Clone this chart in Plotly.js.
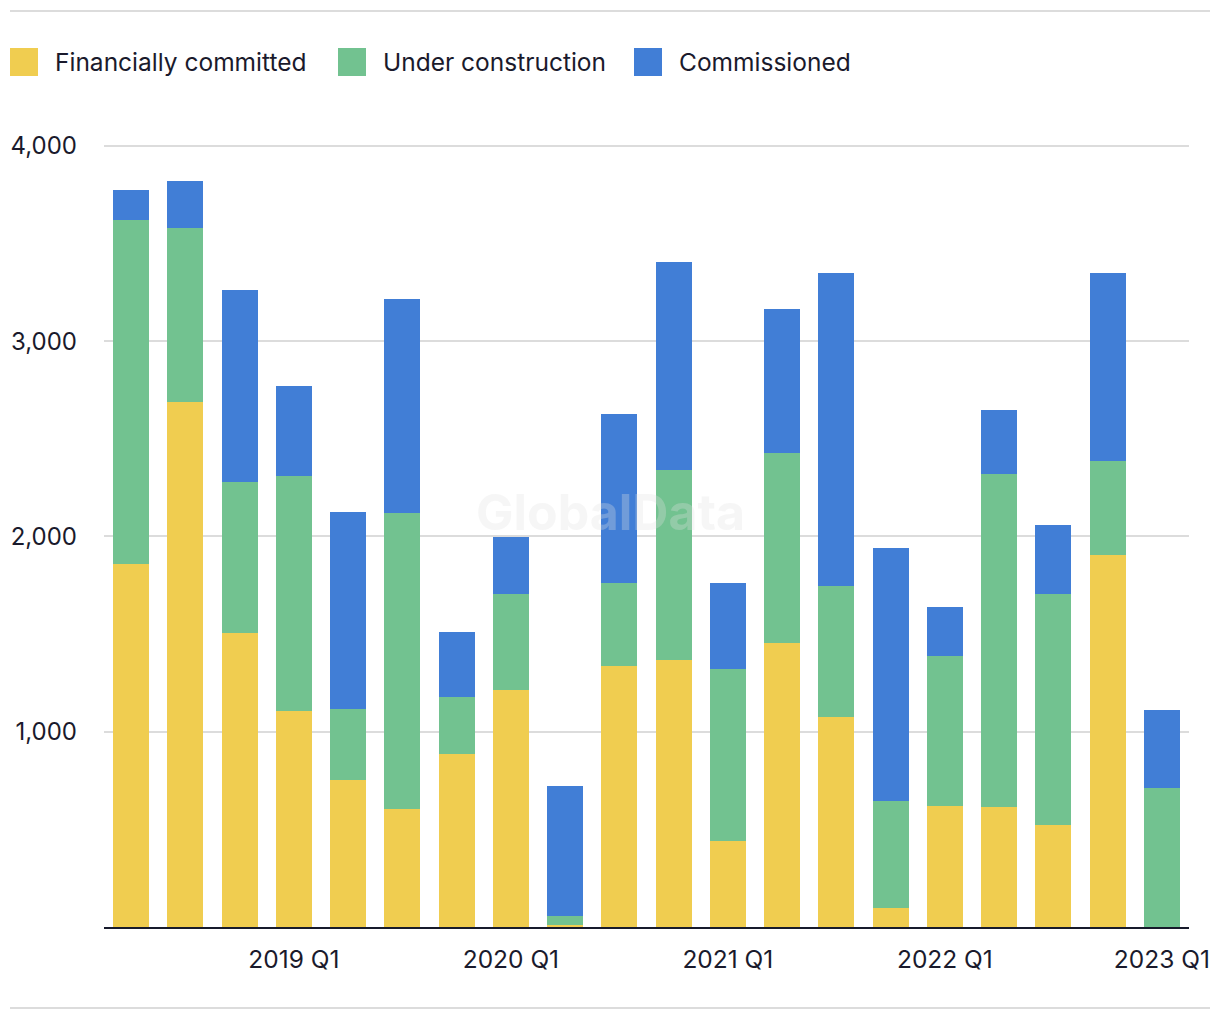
<!DOCTYPE html>
<html><head><meta charset="utf-8">
<script src="https://cdn.plot.ly/plotly-3.0.1.min.js"></script>
<style>html,body{margin:0;padding:0;background:#fff}#chart{width:1220px;height:1020px}</style>
</head><body><div id="chart"></div>
<script>
const quarters = ["2018 Q2","2018 Q3","2018 Q4","2019 Q1","2019 Q2","2019 Q3","2019 Q4","2020 Q1","2020 Q2","2020 Q3","2020 Q4","2021 Q1","2021 Q2","2021 Q3","2021 Q4","2022 Q1","2022 Q2","2022 Q3","2022 Q4","2023 Q1"];
const financiallyCommitted = [1860, 2690, 1505, 1105, 755, 605, 887, 1215, 10, 1337, 1368, 442, 1455, 1077, 99, 621, 615, 524, 1905, 0];
const underConstruction = [1761, 890, 774, 1205, 362, 1515, 291, 490, 46, 425, 973, 879, 973, 669, 546, 767, 1705, 1181, 482, 712];
const commissioned = [154, 241, 983, 461, 1008, 1096, 333, 292, 666, 865, 1065, 441, 737, 1604, 1296, 251, 328, 354, 963, 399];
const seriesNames = ["Financially committed", "Under construction", "Commissioned"];
const seriesColors = ["#F0CD50", "#72C290", "#417ED6"];
const xTickLabels = ["2019 Q1","2020 Q1","2021 Q1","2022 Q1","2023 Q1"];
const yTickVals = [1000, 2000, 3000, 4000];

const W = 1220, H = 1020;
const M = {l: 104, r: 31, t: 127, b: 93};
const pw = W - M.l - M.r, ph = H - M.t - M.b;
const px = x => (x - M.l) / pw;
const py = y => (H - M.b - y) / ph;

const FONT = "Inter, 'Noto Sans', sans-serif";
const TXT = "#1a1a2c";

const seriesData = [financiallyCommitted, underConstruction, commissioned];
const traces = seriesData.map((vals, i) => ({
  type: "bar", x: quarters, y: vals, name: seriesNames[i],
  marker: {color: seriesColors[i], line: {width: 0}},
  showlegend: false, hoverinfo: "x+y+name"
}));

const shapes = [
  {type: "line", xref: "paper", yref: "paper", x0: px(10), x1: px(1210), y0: py(11), y1: py(11), line: {color: "#dcdcdc", width: 2}},
  {type: "line", xref: "paper", yref: "paper", x0: px(10), x1: px(1210), y0: py(1008), y1: py(1008), line: {color: "#dcdcdc", width: 2}}
];
const annotations = [
  {text: "GlobalData", xref: "paper", yref: "paper", x: px(610), y: py(512), showarrow: false,
   font: {family: "Inter, sans-serif", size: 50, color: "rgba(225,225,225,0.3)", weight: 700}}
];
const legendX = [10, 338, 634];
legendX.forEach((lx, i) => {
  shapes.push({type: "rect", xref: "paper", yref: "paper", x0: px(lx), x1: px(lx + 28), y0: py(76), y1: py(48),
    fillcolor: seriesColors[i], line: {width: 0}});
  annotations.push({text: seriesNames[i], xref: "paper", yref: "paper", x: px(lx + 43), y: py(62),
    xanchor: "left", yanchor: "middle", showarrow: false, font: {family: FONT, size: 24.5, color: TXT}});
});

const layout = {
  width: W, height: H, margin: M,
  paper_bgcolor: "#fff", plot_bgcolor: "#fff",
  barmode: "stack", bargap: 0.336,
  font: {family: FONT, size: 24, color: TXT},
  xaxis: {type: "category", tickvals: xTickLabels, ticktext: xTickLabels, showgrid: false,
    showline: true, linecolor: "#171a2b", linewidth: 2, ticks: "", ticklabelstandoff: 10,
    tickfont: {family: FONT, size: 24.5, color: TXT}, fixedrange: true},
  yaxis: {range: [0, 4097], tickvals: yTickVals, tickformat: ",", showgrid: true, gridcolor: "#dcdcdc", gridwidth: 2,
    zeroline: false, showline: false, ticks: "", ticklabelstandoff: 26,
    tickfont: {family: FONT, size: 24, color: TXT}, fixedrange: true},
  shapes: shapes, annotations: annotations, showlegend: false
};
Plotly.newPlot("chart", traces, layout, {displayModeBar: false, staticPlot: true});
</script>
</body></html>
